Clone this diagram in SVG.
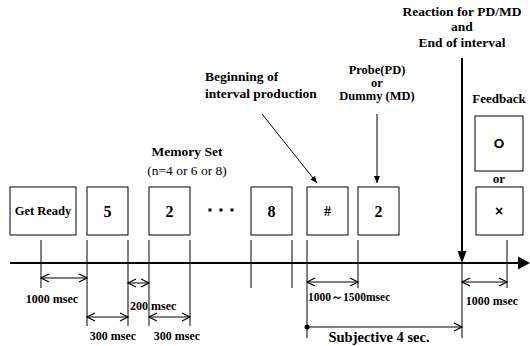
<svg xmlns="http://www.w3.org/2000/svg" width="530" height="346" viewBox="0 0 530 346">
<defs>
<marker id="open" markerUnits="userSpaceOnUse" markerWidth="12" markerHeight="12" refX="9" refY="5" orient="auto-start-reverse" viewBox="0 0 12 10">
<path d="M1,1 L9,5 L1,9" fill="none" stroke="#000" stroke-width="1.2"/>
</marker>
<marker id="fill" markerUnits="userSpaceOnUse" markerWidth="8" markerHeight="8" refX="7" refY="4" orient="auto" viewBox="0 0 8 8">
<path d="M0,1 L7,4 L0,7 Z" fill="#000"/>
</marker>
</defs>
<style>
.box{fill:#fff;stroke:#000;stroke-width:1}
.t{font-family:'Liberation Serif',serif;font-weight:bold;fill:#000}
.n{font-family:'Liberation Serif',serif;fill:#000}
.tick{stroke:#000;stroke-width:1;fill:none}
.dim{stroke:#000;stroke-width:1;fill:none;marker-start:url(#open);marker-end:url(#open)}
</style>
<rect width="530" height="346" fill="#fff"/>

<g id="connectors">
<line x1="10" y1="263" x2="520" y2="263" stroke="#000" stroke-width="2"/>
<path d="M518,256.5 L530,263 L518,269.5 Z" fill="#000"/>
<line x1="462" y1="58" x2="462" y2="253" stroke="#000" stroke-width="2"/>
<path d="M457.5,251 L462,263 L466.5,251 Z" fill="#000"/>
<line x1="462" y1="263" x2="462" y2="338" class="tick"/>
<line x1="262" y1="114" x2="317" y2="183" stroke="#000" stroke-width="1" marker-end="url(#fill)"/>
<line x1="377" y1="114" x2="377" y2="183" stroke="#000" stroke-width="1" marker-end="url(#fill)"/>
<line x1="41" y1="240" x2="41" y2="288" class="tick"/>
<line x1="87" y1="240" x2="87" y2="326" class="tick"/>
<line x1="128" y1="240" x2="128" y2="326" class="tick"/>
<line x1="149" y1="240" x2="149" y2="326" class="tick"/>
<line x1="190" y1="240" x2="190" y2="326" class="tick"/>
<line x1="251" y1="240" x2="251" y2="288" class="tick"/>
<line x1="292" y1="240" x2="292" y2="288" class="tick"/>
<line x1="307" y1="240" x2="307" y2="338" class="tick"/>
<line x1="358" y1="240" x2="358" y2="288" class="tick"/>
<line x1="507" y1="240" x2="507" y2="288" class="tick"/>
<line x1="41" y1="278" x2="87" y2="278" class="dim"/>
<line x1="128" y1="283" x2="149" y2="283" class="dim"/>
<line x1="87" y1="317" x2="128" y2="317" class="dim"/>
<line x1="149" y1="317" x2="190" y2="317" class="dim"/>
<line x1="307" y1="282" x2="358" y2="282" class="dim"/>
<line x1="462" y1="282" x2="507" y2="282" class="dim"/>
<line x1="307" y1="327" x2="462" y2="327" stroke="#000" stroke-width="1" marker-end="url(#open)"/>
<circle cx="307" cy="327" r="2.5" fill="#000"/>
</g>

<g id="getready"><rect class="box" x="10" y="187" width="66" height="48"/><text class="t" x="43" y="215" font-size="12.5" text-anchor="middle">Get Ready</text></g>
<g id="item5"><rect class="box" x="87" y="187" width="41" height="48"/><text class="t" x="107.5" y="217" font-size="16" text-anchor="middle">5</text></g>
<g id="item2a"><rect class="box" x="149" y="187" width="41" height="48"/><text class="t" x="169.5" y="217" font-size="16" text-anchor="middle">2</text></g>
<g id="dots"><rect x="208.5" y="208.5" width="3" height="3" fill="#000"/><rect x="219.5" y="208.5" width="3" height="3" fill="#000"/><rect x="230.5" y="208.5" width="3" height="3" fill="#000"/></g>
<g id="item8"><rect class="box" x="251" y="187" width="41" height="48"/><text class="t" x="271.5" y="217" font-size="16" text-anchor="middle">8</text></g>
<g id="hash"><rect class="box" x="307" y="187" width="41" height="48"/><text class="t" x="327.5" y="216" font-size="14" text-anchor="middle">#</text></g>
<g id="probe"><rect class="box" x="358" y="187" width="41" height="48"/><text class="t" x="378.5" y="217" font-size="16" text-anchor="middle">2</text></g>
<g id="fbO"><rect class="box" x="475" y="116" width="48" height="55"/><text x="499" y="148" font-family="Liberation Sans, Arial, sans-serif" font-weight="bold" font-size="13.5" text-anchor="middle">O</text></g>
<g id="fbX"><rect class="box" x="476" y="187" width="47" height="48"/><text x="499" y="216" font-family="Liberation Sans, Arial, sans-serif" font-weight="bold" font-size="14" text-anchor="middle">×</text></g>

<g id="labels">
<text class="t" x="462" y="16" font-size="13.5" text-anchor="middle">Reaction for PD/MD</text>
<text class="t" x="462" y="31" font-size="13.5" text-anchor="middle">and</text>
<text class="t" x="462" y="47" font-size="13.5" text-anchor="middle">End of interval</text>
<text class="t" x="205" y="81" font-size="13.5">Beginning of</text>
<text class="t" x="205" y="98" font-size="13.5">interval production</text>
<text class="t" x="377" y="73.5" font-size="12.5" text-anchor="middle">Probe(PD)</text>
<text class="t" x="377" y="86.5" font-size="12.5" text-anchor="middle">or</text>
<text class="t" x="377" y="100" font-size="12.5" text-anchor="middle">Dummy (MD)</text>
<text class="t" x="499" y="103" font-size="13" text-anchor="middle">Feedback</text>
<text class="t" x="499" y="183" font-size="13" text-anchor="middle">or</text>
<text class="t" x="187" y="156" font-size="13.5" text-anchor="middle">Memory Set</text>
<text class="n" x="187" y="175" font-size="13.5" text-anchor="middle">(n=4 or 6 or 8)</text>
<text class="t" x="52" y="303" font-size="12" text-anchor="middle">1000 msec</text>
<text class="t" x="130" y="310" font-size="12">200 msec</text>
<text class="t" x="113" y="340" font-size="12" text-anchor="middle">300 msec</text>
<text class="t" x="177" y="340" font-size="12" text-anchor="middle">300 msec</text>
<text class="t" x="308" y="301" font-size="11.5">1000～1500msec</text>
<text class="t" x="492" y="305" font-size="12" text-anchor="middle">1000 msec</text>
<text class="t" x="379" y="342" font-size="14.5" text-anchor="middle">Subjective 4 sec.</text>
</g>
</svg>
